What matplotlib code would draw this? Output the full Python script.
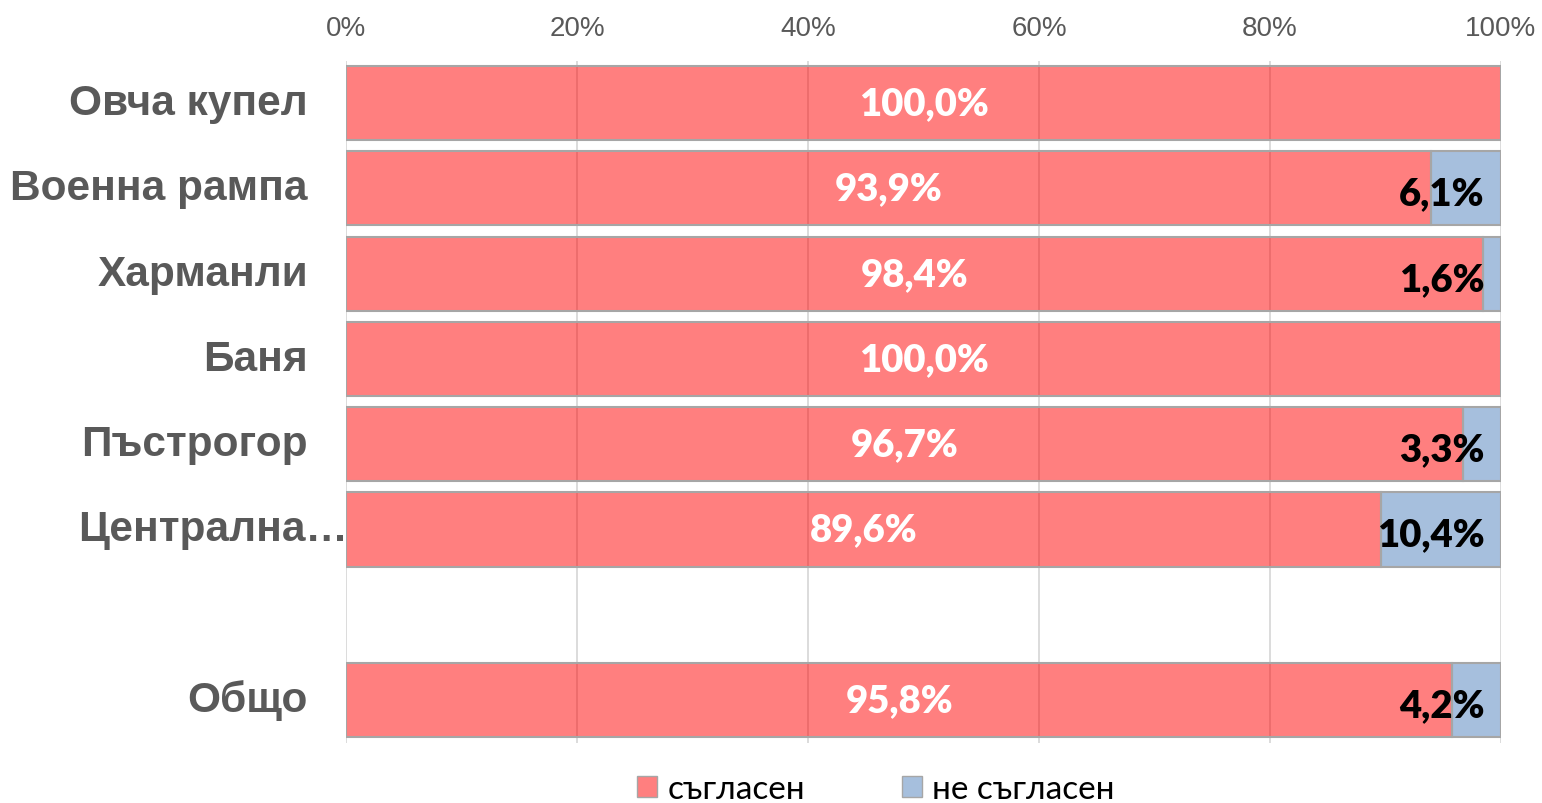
import numpy as np
import matplotlib.pyplot as plt
from matplotlib.patches import Patch

categories = ["Овча купел", "Военна рампа", "Харманли", "Баня", "Пъстрогор",
              "Централна…", "", "Общо"]
agree = [100.0, 93.9, 98.4, 100.0, 96.7, 89.6, np.nan, 95.8]
disagree = [0.0, 6.1, 1.6, 0.0, 3.3, 10.4, np.nan, 4.2]
series_names = ["съгласен", "не съгласен"]
xticks = [0, 20, 40, 60, 80, 100]

red = (1.0, 0.0, 0.0, 0.5)
blue = (79 / 255, 129 / 255, 189 / 255, 0.5)
edge = "#A6A6A6"
gray_txt = "#595959"


def fmt(v):
    return f"{v:.1f}%".replace(".", ",")


fig = plt.figure(figsize=(15.42, 8.04), dpi=100)
ax = fig.add_axes([0.2244, 0.0751, 0.749, 0.8484])

y = np.arange(len(categories))
a = np.array(agree)
d = np.array(disagree)
has_a = ~np.isnan(a)
has_d = d > 0

ax.barh(y[has_a], a[has_a], height=0.87, color=red, edgecolor=edge, linewidth=1.5)
ax.barh(y[has_d], d[has_d], left=a[has_d], height=0.87, color=blue,
        edgecolor=edge, linewidth=1.5)

for yi, v in zip(y[has_a], a[has_a]):
    ax.text(v / 2, yi, fmt(v), ha="center", va="center", color="white",
            fontsize=27.5, fontweight="heavy", family="Lato")
for yi, v in zip(y[has_d], d[has_d]):
    ax.text(98.6, yi + 0.06, fmt(v), ha="right", va="center", color="black",
            fontsize=27.5, fontweight="heavy", family="Lato")

ax.set_xlim(0, 100)
ax.set_ylim(len(categories) - 0.5, -0.5)
ax.xaxis.tick_top()
ax.set_xticks(xticks, [f"{t}%" for t in xticks])
ax.tick_params(axis="x", length=0, pad=14, labelsize=20, labelcolor=gray_txt)
for lab in ax.get_xticklabels():
    lab.set_family("Liberation Sans")
ax.set_yticks([])
ax.xaxis.grid(True, color="#D9D9D9", linewidth=1.3)
ax.set_axisbelow(True)
for s in ax.spines.values():
    s.set_visible(False)

# category labels (the truncated one overruns into the plot like in Excel)
for yi, name in zip(y, categories):
    xpos = 0.002 if name.endswith("…") else -0.033
    ax.text(xpos, yi, name, transform=ax.get_yaxis_transform(), ha="right",
            va="center", fontsize=30.5, fontweight="bold", color=gray_txt,
            family="Liberation Sans")

handles = [Patch(facecolor=red, edgecolor=edge), Patch(facecolor=blue, edgecolor=edge)]
fig.legend(handles, series_names, loc="center", bbox_to_anchor=(0.568, 0.017),
           ncol=2, frameon=False, prop={"family": "Lato", "size": 24},
           handlelength=0.6, handleheight=0.6, handletextpad=0.3, columnspacing=2.9)

fig.savefig("out.png", dpi=100)
